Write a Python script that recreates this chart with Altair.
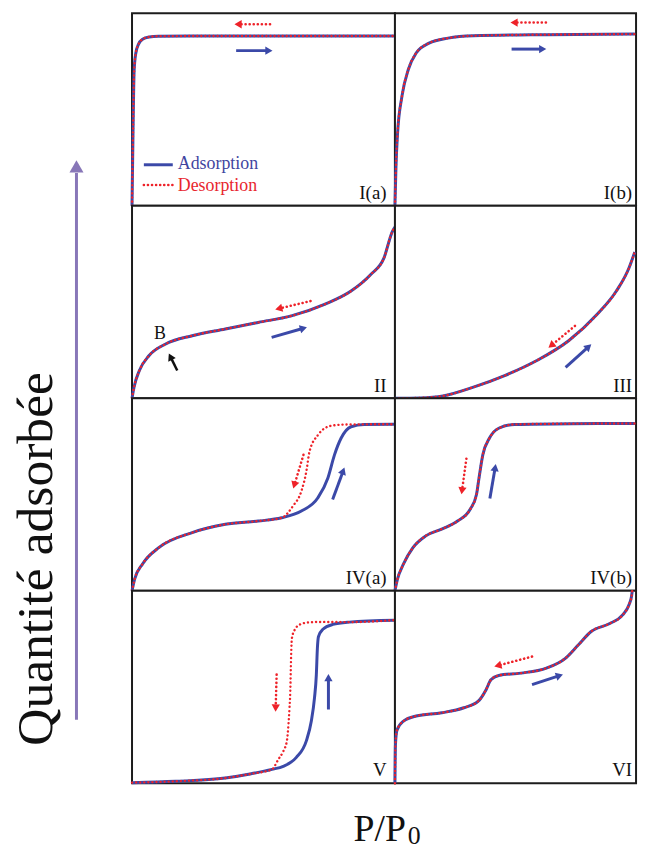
import math
import altair as alt
import pandas as pd

# ---------------- data ----------------
panel_names = ["I(a)", "I(b)", "II", "III", "IV(a)", "IV(b)", "V", "VI"]

ia_x = [0.0, 0.004, 0.008, 0.014, 0.025, 0.04, 0.065, 0.1, 0.3, 1.0]
ia_y = [0.0, 0.4, 0.7, 0.79, 0.84, 0.865, 0.877, 0.881, 0.882, 0.882]

# right-hand column is cut by the page edge in the reference: readings stop there
ib_x = [0.0, 0.004, 0.01, 0.028, 0.053, 0.084, 0.135, 0.21, 0.311, 0.6, 0.95]
ib_y = [0.0, 0.2, 0.37, 0.571, 0.708, 0.794, 0.845, 0.871, 0.883, 0.889, 0.892]

ii_x = [0.0, 0.008, 0.028, 0.065, 0.128, 0.229, 0.355, 0.48, 0.606, 0.732, 0.833, 0.908, 0.958, 0.99, 1.0]
ii_y = [0.0, 0.06, 0.144, 0.222, 0.282, 0.325, 0.36, 0.394, 0.428, 0.488, 0.557, 0.643, 0.728, 0.866, 0.89]

iii_x = [0.0, 0.1, 0.19, 0.311, 0.437, 0.562, 0.688, 0.801, 0.877, 0.927, 0.95]
iii_y = [0.0, 0.002, 0.012, 0.058, 0.119, 0.196, 0.299, 0.436, 0.557, 0.677, 0.76]

iva_ads_x = [0.0, 0.01, 0.04, 0.103, 0.229, 0.355, 0.48, 0.569, 0.644, 0.707, 0.745, 0.77, 0.795, 0.833, 0.883, 1.0]
iva_ads_y = [0.0, 0.06, 0.139, 0.225, 0.302, 0.345, 0.362, 0.379, 0.414, 0.483, 0.586, 0.706, 0.792, 0.852, 0.864, 0.865]
iva_des_x = [0.0, 0.01, 0.04, 0.103, 0.229, 0.355, 0.48, 0.569, 0.612, 0.644, 0.663, 0.675, 0.707, 0.757, 0.82, 1.0]
iva_des_y = [0.0, 0.06, 0.139, 0.225, 0.302, 0.345, 0.362, 0.379, 0.44, 0.517, 0.62, 0.723, 0.809, 0.857, 0.864, 0.865]

ivb_x = [0.0, 0.01, 0.034, 0.072, 0.122, 0.185, 0.248, 0.298, 0.323, 0.333, 0.348, 0.374, 0.411, 0.474, 0.7, 0.95]
ivb_y = [0.0, 0.06, 0.139, 0.225, 0.285, 0.32, 0.362, 0.423, 0.5, 0.586, 0.706, 0.792, 0.844, 0.864, 0.868, 0.869]

v_ads_x = [0.0, 0.166, 0.355, 0.449, 0.532, 0.575, 0.625, 0.663, 0.682, 0.694, 0.701, 0.705, 0.709, 0.726, 0.764, 0.826, 1.0]
v_ads_y = [0.003, 0.01, 0.027, 0.048, 0.072, 0.088, 0.134, 0.22, 0.323, 0.443, 0.563, 0.701, 0.761, 0.8, 0.825, 0.837, 0.847]
v_des_x = [0.0, 0.166, 0.355, 0.449, 0.532, 0.557, 0.576, 0.589, 0.595, 0.599, 0.602, 0.604, 0.606, 0.608, 0.618, 0.639, 0.67, 0.726, 0.826, 1.0]
v_des_y = [0.003, 0.01, 0.027, 0.048, 0.072, 0.125, 0.168, 0.22, 0.306, 0.392, 0.478, 0.598, 0.701, 0.753, 0.795, 0.825, 0.835, 0.838, 0.837, 0.847]

vi_x = [0.0, 0.002, 0.008, 0.034, 0.084, 0.185, 0.273, 0.33, 0.361, 0.38, 0.411, 0.499, 0.6, 0.675, 0.726, 0.776, 0.851, 0.901, 0.928, 0.937, 0.94]
vi_y = [0.0, 0.2, 0.275, 0.323, 0.349, 0.366, 0.392, 0.426, 0.486, 0.537, 0.56, 0.572, 0.598, 0.649, 0.718, 0.787, 0.83, 0.873, 0.93, 0.97, 1.0]

# direction arrows (tail -> head)
arrow_panel = ["I(a)", "I(a)", "I(b)", "I(b)", "II", "II", "II", "III", "III",
               "IV(a)", "IV(a)", "IV(b)", "IV(b)", "V", "V", "VI", "VI"]
arrow_kind = ["des", "ads", "des", "ads", "des", "ads", "mark", "des", "ads",
              "des", "ads", "des", "ads", "des", "ads", "des", "ads"]
arrow_x1 = [0.525, 0.396, 0.598, 0.462, 0.679, 0.531, 0.172, 0.713, 0.676,
            0.652, 0.763, 0.283, 0.376, 0.55, 0.747, 0.543, 0.543]
arrow_y1 = [0.943, 0.806, 0.952, 0.814, 0.505, 0.316, 0.144, 0.376, 0.161,
            0.706, 0.474, 0.686, 0.479, 0.564, 0.383, 0.658, 0.512]
arrow_x2 = [0.392, 0.532, 0.46, 0.597, 0.547, 0.663, 0.141, 0.61, 0.776,
            0.614, 0.807, 0.264, 0.399, 0.546, 0.747, 0.396, 0.663]
arrow_y2 = [0.943, 0.806, 0.952, 0.814, 0.462, 0.368, 0.23, 0.264, 0.278,
            0.534, 0.637, 0.504, 0.655, 0.375, 0.564, 0.607, 0.564]

legend_labels = ["Adsorption", "Desorption"]
y_title = "Quantité adsorbée"
x_title_main = "P/P"
x_title_sub = "0"

# ---------------- styling ----------------
W, H = 265, 194          # full panel size (P/P0 from 0 to 1)
W_RIGHT = 243            # right column: the part visible before the page edge in the reference
X_RIGHT_MAX = 0.955      # P/P0 value at the page edge in the reference
SERIF = "Liberation Serif"
BLUE = "#3b49a8"
RED = "#ee2229"
AXIS_PURPLE = "#8877b8"
DOT = [0.1, 4]

curves = {
    "I(a)": ((ia_x, ia_y), (ia_x, ia_y)),
    "I(b)": ((ib_x, ib_y), (ib_x, ib_y)),
    "II": ((ii_x, ii_y), (ii_x, ii_y)),
    "III": ((iii_x, iii_y), (iii_x, iii_y)),
    "IV(a)": ((iva_ads_x, iva_ads_y), (iva_des_x, iva_des_y)),
    "IV(b)": ((ivb_x, ivb_y), (ivb_x, ivb_y)),
    "V": ((v_ads_x, v_ads_y), (v_des_x, v_des_y)),
    "VI": ((vi_x, vi_y), (vi_x, vi_y)),
}

arrows_all = pd.DataFrame({"panel": arrow_panel, "kind": arrow_kind,
                           "x": arrow_x1, "y": arrow_y1, "tx": arrow_x2, "ty": arrow_y2})

YS = alt.Scale(domain=[0, 1], nice=False, zero=False)


def panel(name, col):
    xmax = 1.0 if col == 0 else X_RIGHT_MAX
    width = W if col == 0 else W_RIGHT
    kx = width / xmax  # pixels per unit of P/P0
    XS = alt.Scale(domain=[0, xmax], nice=False, zero=False)

    def X(f="x"):
        return alt.X(f"{f}:Q", scale=XS, axis=None)

    def Y(f="y"):
        return alt.Y(f"{f}:Q", scale=YS, axis=None)

    def head_geom(r):
        dxp = (r.tx - r.x) * kx
        dyp = (r.ty - r.y) * H
        L = math.hypot(dxp, dyp)
        ux, uy = dxp / L, dyp / L
        back = 3.0
        return pd.Series({"x2": r.tx - ux * back / kx, "y2": r.ty - uy * back / H,
                          "angle": math.degrees(math.atan2(dxp, dyp)) % 360})

    (ax, ay), (dx, dy) = curves[name]
    ads = pd.DataFrame({"x": ax, "y": ay})
    des = pd.DataFrame({"x": dx, "y": dy})
    layers = [
        alt.Chart(ads).mark_line(color=BLUE, strokeWidth=3, interpolate="monotone").encode(x=X(), y=Y()),
        alt.Chart(des).mark_line(color=RED, strokeWidth=2.4, strokeDash=DOT, strokeCap="round",
                                 interpolate="monotone").encode(x=X(), y=Y()),
    ]
    a = arrows_all[arrows_all.panel == name].copy()
    a = pd.concat([a, a.apply(head_geom, axis=1)], axis=1)
    styles = {
        "ads": dict(color=BLUE, strokeWidth=3),
        "des": dict(color=RED, strokeWidth=2.6, strokeDash=DOT, strokeCap="round"),
        "mark": dict(color="#111111", strokeWidth=2.5),
    }
    for kind, st in styles.items():
        sub = a[a.kind == kind]
        if len(sub) == 0:
            continue
        layers.append(alt.Chart(sub).mark_rule(**st).encode(x=X(), y=Y(), x2="x2:Q", y2="y2:Q"))
        layers.append(alt.Chart(sub).mark_point(shape="triangle-up", filled=True, size=70, opacity=1,
                                                color=st["color"], strokeWidth=0)
                      .encode(x=X("x2"), y=Y("y2"), angle=alt.Angle("angle:Q", scale=None)))
    lab_x = 0.968 if col == 0 else (W_RIGHT - 4) / kx
    lab = pd.DataFrame({"x": [lab_x], "y": [0.035], "t": [name]})
    layers.append(alt.Chart(lab).mark_text(font=SERIF, fontSize=19, align="right", baseline="alphabetic",
                                           color="#111111").encode(x=X(), y=Y(), text="t:N"))
    if name == "I(a)":
        leg = pd.DataFrame({"x": [0.045, 0.155, 0.045, 0.155], "y": [0.213, 0.213, 0.108, 0.108],
                            "s": ["a", "a", "d", "d"]})
        layers.append(alt.Chart(leg[leg.s == "a"]).mark_line(color=BLUE, strokeWidth=3).encode(x=X(), y=Y()))
        layers.append(alt.Chart(leg[leg.s == "d"]).mark_line(color=RED, strokeWidth=2.6, strokeDash=DOT,
                                                              strokeCap="round").encode(x=X(), y=Y()))
        lt = pd.DataFrame({"x": [0.174, 0.174], "y": [0.189, 0.077], "t": legend_labels,
                           "c": ["#3f45a0", "#e8262e"]})
        layers.append(alt.Chart(lt).mark_text(font=SERIF, fontSize=18, align="left", baseline="alphabetic")
                      .encode(x=X(), y=Y(), text="t:N", color=alt.Color("c:N", scale=None)))
    if name == "II":
        bt = pd.DataFrame({"x": [0.106], "y": [0.335], "t": ["B"]})
        layers.append(alt.Chart(bt).mark_text(font=SERIF, fontSize=18, align="center", baseline="middle",
                                              color="#111111").encode(x=X(), y=Y(), text="t:N"))
    if name == "V":
        # shared axis titles of the whole grid, positioned in this (bottom-left) panel's frame
        yt = pd.DataFrame({"x": [-0.3057], "y": [1.165], "t": [y_title]})
        layers.append(alt.Chart(yt).mark_text(font=SERIF, fontSize=52, angle=270, align="center",
                                              baseline="alphabetic", color="#111111")
                      .encode(x=X(), y=Y(), text="t:N"))
        shaft = pd.DataFrame({"x": [-0.2113], "y": [0.33], "y2": [3.17]})
        layers.append(alt.Chart(shaft).mark_rule(color=AXIS_PURPLE, strokeWidth=3)
                      .encode(x=X(), y=Y(), y2="y2:Q"))
        tip = pd.DataFrame({"x": [-0.2113], "y": [3.205]})
        layers.append(alt.Chart(tip).mark_point(shape="triangle-up", filled=True, size=200, opacity=1,
                                                color=AXIS_PURPLE, strokeWidth=0).encode(x=X(), y=Y()))
        xt = pd.DataFrame({"x": [1.0415], "y": [-0.3015], "t": [x_title_main]})
        layers.append(alt.Chart(xt).mark_text(font=SERIF, fontSize=38, align="right", baseline="alphabetic",
                                              color="#111111").encode(x=X(), y=Y(), text="t:N"))
        xs = pd.DataFrame({"x": [1.049], "y": [-0.317], "t": [x_title_sub]})
        layers.append(alt.Chart(xs).mark_text(font=SERIF, fontSize=26, align="left", baseline="alphabetic",
                                              color="#111111").encode(x=X(), y=Y(), text="t:N"))
    return alt.layer(*layers).properties(width=width, height=H)


chart = alt.concat(*[panel(n, i % 2) for i, n in enumerate(panel_names)], columns=2, spacing=0,
                   bounds="flush", align="each").properties(
    padding={"left": 0, "top": 1, "right": 0, "bottom": 0}
).configure(background="white").configure_view(stroke="#1c1c1c", strokeWidth=2, fill="white")

chart.save("out.html", embed_options={"renderer": "svg", "actions": False})
